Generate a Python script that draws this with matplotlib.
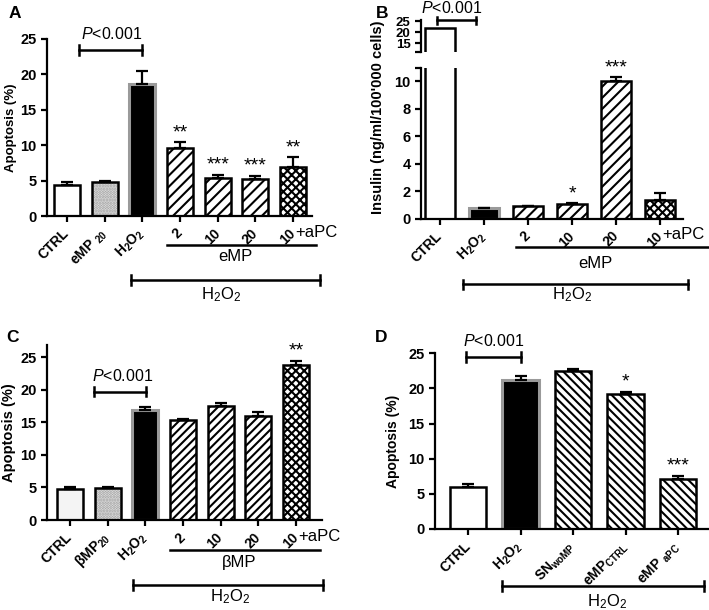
import numpy as np
import matplotlib
matplotlib.use("Agg")
import matplotlib.pyplot as plt

plt.rcParams["font.family"] = ["Liberation Sans", "DejaVu Sans"]
plt.rcParams["mathtext.fontset"] = "custom"
plt.rcParams["mathtext.rm"] = "Liberation Sans"
plt.rcParams["mathtext.it"] = "Liberation Sans:italic"
plt.rcParams["mathtext.bf"] = "Liberation Sans:bold"
plt.rcParams["hatch.linewidth"] = 1.5

H2O2_BOLD = r"$\mathbf{H_2O_2}$"
H2O2 = r"H$_2$O$_2$"
P_TEXT = r"$\it{P}$<0.001"

# panel A: apoptosis with eMP
A_LABELS = ["CTRL", r"eMP $_{\mathbf{20}}$", H2O2_BOLD, "2", "10", "20", "10"]
A_MEAN = [4.4, 4.8, 18.6, 9.6, 5.3, 5.2, 6.9]
A_ERR = [0.45, 0.2, 1.9, 0.8, 0.55, 0.5, 1.4]
A_STARS = ["", "", "", "**", "***", "***", "**"]

# panel B: insulin secretion
B_LABELS = ["CTRL", H2O2_BOLD, "2", "10", "20", "10"]
B_MEAN = [21.8, 0.75, 0.9, 1.07, 10.0, 1.38]
B_ERR = [0.0, 0.05, 0.03, 0.05, 0.3, 0.48]
B_STARS = ["", "", "", "*", "***", ""]

# panel C: apoptosis with betaMP
C_LABELS = ["CTRL", r"βMP$_{\mathbf{20}}$", H2O2_BOLD, "2", "10", "20", "10"]
C_MEAN = [4.8, 4.95, 16.9, 15.35, 17.55, 16.0, 23.85]
C_ERR = [0.2, 0.15, 0.5, 0.2, 0.5, 0.6, 0.65]
C_STARS = ["", "", "", "", "", "", "**"]

# panel D: supernatant controls
D_LABELS = ["CTRL", H2O2_BOLD, r"SN$_{\mathbf{woMP}}$", r"eMP$_{\mathbf{CTRL}}$", r"eMP $_{\mathbf{aPC}}$"]
D_MEAN = [5.95, 21.2, 22.5, 19.2, 7.1]
D_ERR = [0.45, 0.6, 0.2, 0.3, 0.45]
D_STARS = ["", "", "", "*", "***"]

A_KINDS = ["open", "dots", "black", "///", "///", "///", "cross"]
B_KINDS = ["open", "black", "///", "///", "///", "cross"]
C_KINDS = ["light", "dots", "black", "////", "////", "////", "cross"]
D_KINDS = ["open", "black", "\\\\\\\\", "\\\\\\\\", "\\\\\\\\"]

WIDTH = 0.69


def style_axis(ax):
    for side in ["top", "right"]:
        ax.spines[side].set_visible(False)
    for side in ["left", "bottom"]:
        ax.spines[side].set_linewidth(1.6)
    ax.tick_params(width=1.6, length=4, labelsize=10.5)
    for lab in ax.get_yticklabels():
        lab.set_fontweight("bold")


def draw_bars(ax, means, errs, kinds):
    x = np.arange(len(means))
    for xi, m, k in zip(x, means, kinds):
        if k == "black":
            ax.bar(xi, m, WIDTH, color="black", edgecolor="#9a9a9a", linewidth=2.2, zorder=2)
        elif k == "dots":
            ax.bar(xi, m, WIDTH, color="#ececec", edgecolor="#9a9a9a", hatch="......", linewidth=0, zorder=2)
            ax.bar(xi, m, WIDTH, fill=False, edgecolor="black", linewidth=1.8, zorder=3)
        elif k == "open":
            ax.bar(xi, m, WIDTH, color="white", edgecolor="black", linewidth=1.8, zorder=2)
        elif k == "light":
            ax.bar(xi, m, WIDTH, color="#f4f4f4", edgecolor="black", linewidth=1.8, zorder=2)
        elif k == "cross":
            ax.bar(xi, m, WIDTH, color="white", edgecolor="black", hatch="xxxx", linewidth=1.8, zorder=2)
        else:
            ax.bar(xi, m, WIDTH, color="white", edgecolor="black", hatch=k, linewidth=1.8, zorder=2)
    ax.errorbar(x, np.array(means), yerr=[np.zeros(len(x)), errs], fmt="none", ecolor="black",
                elinewidth=1.6, capsize=4, capthick=1.6, zorder=4)


def stars(ax, means, errs, marks):
    for xi, (m, e, s) in enumerate(zip(means, errs, marks)):
        if s:
            ax.annotate(s, xy=(xi, m + e), xytext=(0, 5), textcoords="offset pixels",
                        ha="center", va="baseline", fontsize=14, annotation_clip=False)


def xlabels(ax, labels):
    ax.set_xticks(np.arange(len(labels)))
    ax.set_xticklabels(labels, rotation=45, ha="right", va="center", rotation_mode="anchor",
                       fontweight="bold", fontsize=10)
    ax.tick_params(axis="x", pad=7)


def p_bracket(ax, x0, x1, y, ty, tx, dy):
    ax.plot([x0, x1], [y, y], color="black", lw=1.8, clip_on=False)
    ax.plot([x0, x0], [y - dy, y + dy], color="black", lw=1.8, clip_on=False)
    ax.plot([x1, x1], [y - dy, y + dy], color="black", lw=1.8, clip_on=False)
    ax.text(tx, ty, P_TEXT, ha="center", va="center", fontsize=11.5, clip_on=False)


def group_line(ax, x0, x1, y, label, tx, ty):
    tr = ax.get_xaxis_transform()
    ax.plot([x0, x1], [y, y], color="black", lw=1.8, transform=tr, clip_on=False)
    ax.text(tx, ty, label, transform=tr, ha="center", va="center", fontsize=12)


def h2o2_bracket(ax, x0, x1, y, tx, ty, dy):
    tr = ax.get_xaxis_transform()
    ax.plot([x0, x1], [y, y], color="black", lw=1.8, transform=tr, clip_on=False)
    ax.plot([x0, x0], [y - dy, y + dy], color="black", lw=1.8, transform=tr, clip_on=False)
    ax.plot([x1, x1], [y - dy, y + dy], color="black", lw=1.8, transform=tr, clip_on=False)
    ax.text(tx, ty, H2O2, transform=tr, ha="center", va="center", fontsize=12)


def apc_text(ax, xi):
    ax.annotate("+aPC", xy=(xi, 0), xycoords=("data", "axes fraction"), xytext=(2, -16),
                textcoords="offset pixels", ha="left", va="center", fontsize=12,
                annotation_clip=False)


fig = plt.figure(figsize=(7.09, 6.10), dpi=100)

# ---- A ----
axA = fig.add_axes([0.0663, 0.6459, 0.3738, 0.2902])
draw_bars(axA, A_MEAN, A_ERR, A_KINDS)
stars(axA, A_MEAN, A_ERR, A_STARS)
axA.set_xlim(-0.53, 6.5)
axA.set_ylim(0, 25)
axA.set_yticks([0, 5, 10, 15, 20, 25])
style_axis(axA)
xlabels(axA, A_LABELS)
axA.set_ylabel("Apoptosis (%)", fontweight="bold", fontsize=9.5, labelpad=2)
p_bracket(axA, 0.32, 2.0, 23.45, 25.7, 1.18, 0.7)
apc_text(axA, 6)
group_line(axA, 2.65, 6.6, -0.164, "eMP", 4.46, -0.226)
h2o2_bracket(axA, 1.7, 6.71, -0.362, 4.1, -0.446, 0.028)
fig.text(0.021, 0.978, "A", fontweight="bold", fontsize=12.5, ha="center", va="center")

# ---- B (broken axis) ----
axB = fig.add_axes([0.5938, 0.6418, 0.3695, 0.2473])
axBt = fig.add_axes([0.5938, 0.9143, 0.3695, 0.053])
draw_bars(axB, B_MEAN, B_ERR, B_KINDS)
axBt.bar(0, B_MEAN[0], WIDTH, color="white", edgecolor="black", linewidth=1.8, zorder=2)
stars(axB, B_MEAN, B_ERR, B_STARS)
axB.set_xlim(-0.43, 5.52)
axB.set_ylim(0, 11)
axB.set_yticks([0, 2, 4, 6, 8, 10, 11])
axB.set_yticklabels(["0", "2", "4", "6", "8", "10", ""])
style_axis(axB)
xlabels(axB, B_LABELS)
axBt.set_xlim(-0.43, 5.52)
axBt.set_ylim(11, 25.5)
axBt.set_yticks([11, 15, 20, 25])
axBt.set_yticklabels(["", "15", "20", "25"])
style_axis(axBt)
axBt.tick_params(labelsize=9.5)
axBt.spines["bottom"].set_visible(False)
axBt.set_xticks([])
p_bracket(axBt, -0.07, 0.82, 25.4, 30.8, 0.27, 1.6)
apc_text(axB, 5)
group_line(axB, 1.73, 6.2, -0.189, "eMP", 3.52, -0.295)
h2o2_bracket(axB, 0.52, 5.64, -0.435, 3.0, -0.508, 0.03)
fig.text(378 / 709, 0.808, "Insulin (ng/ml/100'000 cells)", rotation=90, fontweight="bold",
         fontsize=10.5, ha="center", va="center")
fig.text(382 / 709, 0.978, "B", fontweight="bold", fontsize=12.5, ha="center", va="center")

# ---- C ----
axC = fig.add_axes([0.0663, 0.1475, 0.3879, 0.2869])
draw_bars(axC, C_MEAN, C_ERR, C_KINDS)
stars(axC, C_MEAN, C_ERR, C_STARS)
axC.set_xlim(-0.61, 6.69)
axC.set_ylim(0, 26.9)
axC.set_yticks([0, 5, 10, 15, 20, 25])
style_axis(axC)
xlabels(axC, C_LABELS)
axC.set_ylabel("Apoptosis (%)", fontweight="bold", fontsize=10.5, labelpad=3)
p_bracket(axC, 0.64, 2.03, 19.7, 22.2, 1.4, 0.7)
apc_text(axC, 6)
group_line(axC, 2.65, 6.63, -0.171, "βMP", 4.5, -0.24)
h2o2_bracket(axC, 1.67, 6.71, -0.371, 4.24, -0.44, 0.028)
fig.text(0.017, 0.447, "C", fontweight="bold", fontsize=12.5, ha="center", va="center")

# ---- D ----
axD = fig.add_axes([0.6135, 0.1328, 0.3850, 0.288])
draw_bars(axD, D_MEAN, D_ERR, D_KINDS)
stars(axD, D_MEAN, D_ERR, D_STARS)
axD.set_xlim(-0.63, 4.57)
axD.set_ylim(0, 25)
axD.set_yticks([0, 5, 10, 15, 20, 25])
style_axis(axD)
xlabels(axD, D_LABELS)
axD.set_ylabel("Apoptosis (%)", fontweight="bold", fontsize=10, labelpad=6)
p_bracket(axD, -0.04, 1.0, 24.5, 26.7, 0.48, 0.7)
h2o2_bracket(axD, 0.65, 4.5, -0.324, 2.65, -0.415, 0.028)
fig.text(381 / 709, 0.447, "D", fontweight="bold", fontsize=12.5, ha="center", va="center")

fig.savefig("out.png", dpi=100)
